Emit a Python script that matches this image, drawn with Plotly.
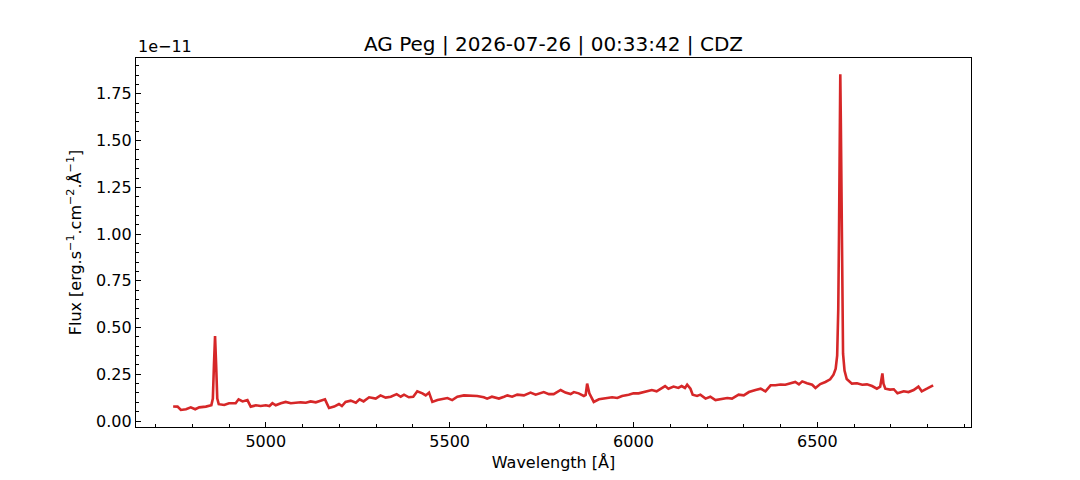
import plotly.graph_objects as go

# spectrum (flux in units of 1e-11)
wavelength = [
    4748, 4760, 4769, 4783, 4796, 4808, 4819, 4837, 4852, 4856,
    4859, 4862, 4865, 4868, 4872, 4887, 4900, 4918, 4926, 4937,
    4950, 4959, 4973, 4986, 5000, 5010, 5018, 5027, 5041, 5054,
    5068, 5081, 5095, 5109, 5122, 5136, 5149, 5161, 5172, 5186,
    5199, 5207, 5217, 5231, 5245, 5255, 5266, 5281, 5299, 5312,
    5326, 5340, 5356, 5367, 5376, 5389, 5401, 5412, 5426, 5435,
    5444, 5453, 5467, 5480, 5494, 5507, 5521, 5539, 5557, 5575,
    5593, 5602, 5615, 5634, 5648, 5657, 5670, 5684, 5702, 5720,
    5734, 5747, 5756, 5770, 5783, 5802, 5815, 5829, 5838, 5851,
    5865, 5870, 5874, 5880, 5892, 5906, 5924, 5942, 5956, 5969,
    5987, 6000, 6014, 6032, 6050, 6063, 6077, 6086, 6095, 6109,
    6122, 6131, 6140, 6146, 6155, 6161, 6173, 6182, 6196, 6209,
    6223, 6241, 6255, 6268, 6286, 6300, 6314, 6332, 6346, 6359,
    6373, 6386, 6400, 6413, 6427, 6440, 6450, 6459, 6472, 6486,
    6495, 6508, 6522, 6535, 6544, 6550, 6554, 6557, 6559, 6561,
    6562.5, 6564, 6566, 6568, 6570, 6574, 6580, 6594, 6608, 6622,
    6635, 6649, 6662, 6671, 6675, 6677, 6680, 6685, 6698, 6708,
    6718, 6735, 6748, 6762, 6775, 6784, 6798, 6815,
]
flux = [
    0.078, 0.077, 0.059, 0.063, 0.073, 0.063, 0.073, 0.077, 0.085, 0.12,
    0.30, 0.455, 0.30, 0.12, 0.090, 0.086, 0.095, 0.095, 0.116, 0.105,
    0.112, 0.077, 0.084, 0.080, 0.084, 0.080, 0.095, 0.084, 0.095, 0.102,
    0.095, 0.098, 0.100, 0.098, 0.105, 0.100, 0.109, 0.116, 0.070, 0.077,
    0.091, 0.080, 0.102, 0.109, 0.098, 0.116, 0.105, 0.127, 0.120, 0.137,
    0.125, 0.130, 0.144, 0.130, 0.141, 0.127, 0.130, 0.159, 0.148, 0.137,
    0.152, 0.102, 0.112, 0.116, 0.123, 0.112, 0.130, 0.137, 0.137, 0.134,
    0.127, 0.120, 0.130, 0.120, 0.130, 0.137, 0.130, 0.141, 0.137, 0.152,
    0.141, 0.148, 0.155, 0.144, 0.144, 0.166, 0.152, 0.144, 0.155, 0.148,
    0.134, 0.140, 0.200, 0.148, 0.102, 0.116, 0.120, 0.127, 0.123, 0.134,
    0.141, 0.148, 0.148, 0.159, 0.166, 0.159, 0.177, 0.187, 0.173, 0.184,
    0.177, 0.187, 0.177, 0.194, 0.173, 0.141, 0.134, 0.141, 0.120, 0.130,
    0.112, 0.116, 0.123, 0.120, 0.141, 0.137, 0.155, 0.166, 0.173, 0.159,
    0.191, 0.191, 0.195, 0.194, 0.200, 0.209, 0.196, 0.212, 0.202, 0.194,
    0.177, 0.198, 0.209, 0.223, 0.248, 0.280, 0.35, 0.60, 1.00, 1.55,
    1.855, 1.60, 1.00, 0.55, 0.36, 0.27, 0.225, 0.200, 0.202, 0.194,
    0.196, 0.187, 0.173, 0.184, 0.22, 0.255, 0.20, 0.173, 0.168, 0.170,
    0.148, 0.159, 0.155, 0.166, 0.184, 0.159, 0.173, 0.191,
]

title = 'AG Peg | 2026-07-26 | 00:33:42 | CDZ'
font = 'DejaVu Sans'

fig = go.Figure()
fig.add_trace(go.Scatter(x=wavelength, y=flux, mode='lines',
                         line=dict(color='#d62728', width=2.6)))

axis_style = dict(
    showline=True, linecolor='black', linewidth=1.2, mirror=True,
    showgrid=False, zeroline=False,
    ticks='inside', ticklen=5, tickwidth=1.2, tickcolor='black',
    tickfont=dict(family=font, size=16, color='black'),
)

fig.update_xaxes(
    range=[4647, 6918], tick0=5000, dtick=500,
    minor=dict(ticks='inside', dtick=100, ticklen=3, tickwidth=1, tickcolor='black'),
    title=dict(text='Wavelength [Å]', font=dict(family=font, size=16, color='black'), standoff=6),
    **axis_style,
)
fig.update_yaxes(
    range=[-0.032, 1.942], tick0=0, dtick=0.25, tickformat='.2f',
    minor=dict(ticks='inside', dtick=0.05, ticklen=3, tickwidth=1, tickcolor='black'),
    title=dict(text='Flux [erg.s<sup>−1</sup>.cm<sup>−2</sup>.Å<sup>−1</sup>]',
               font=dict(family=font, size=16, color='black'), standoff=10),
    **axis_style,
)

# matplotlib style offset text
fig.add_annotation(text='1e−11', xref='paper', yref='paper', x=0, y=1,
                   xanchor='left', yanchor='bottom', showarrow=False, yshift=0,
                   font=dict(family=font, size=16, color='black'))

# the page body has an 8px margin, so the margins are shifted to match
fig.update_layout(
    width=1080, height=480,
    margin=dict(l=128, r=117, t=50, b=61),
    paper_bgcolor='white', plot_bgcolor='white',
    showlegend=False,
    title=dict(text=title, x=0.5, xref='paper', xanchor='center', y=0.925, yanchor='middle',
               font=dict(family=font, size=20, color='black')),
)

fig.write_html('out.html')
